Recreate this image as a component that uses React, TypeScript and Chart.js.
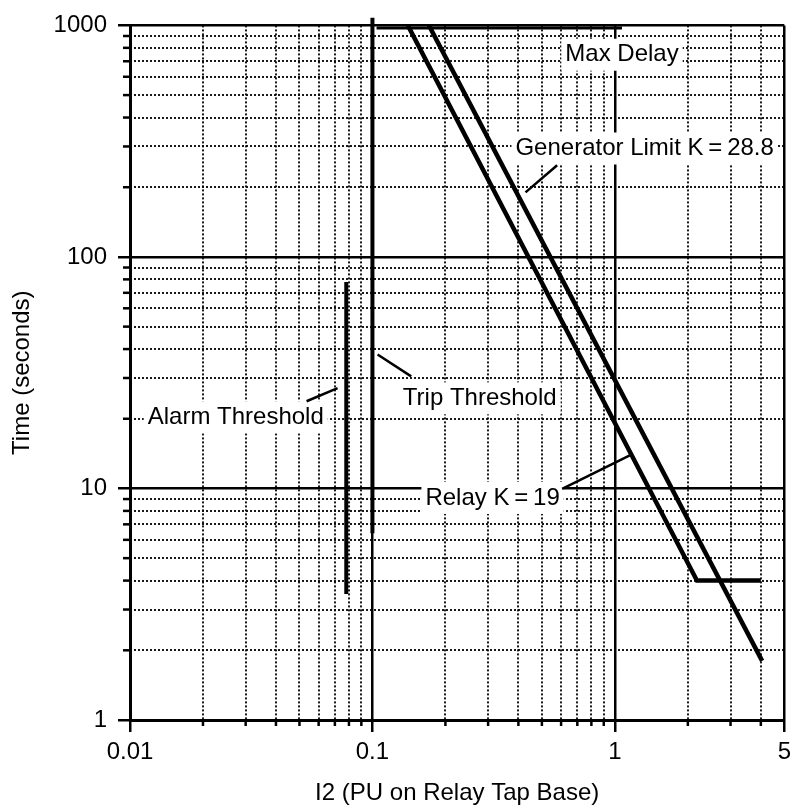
import React, { useEffect, useRef } from "react";
import { Chart, registerables } from "chart.js";

Chart.register(...registerables);

const FONT = '"Liberation Sans", Arial, Helvetica, sans-serif';

// ---- axis ticks ----
const xMajorTicks = [0.01, 0.1, 1, 5];
const xTickLabels = ["0.01", "0.1", "1", "5"];
const yMajorTicks = [1, 10, 100, 1000];
const yTickLabels = ["1", "10", "100", "1000"];
const xMinorTicks = [
  0.02, 0.03, 0.04, 0.05, 0.06, 0.07, 0.08, 0.09,
  0.2, 0.3, 0.4, 0.5, 0.6, 0.7, 0.8, 0.9,
  2, 3, 4,
];
const yMinorTicks = [
  2, 3, 4, 5, 6, 7, 8, 9,
  20, 30, 40, 50, 60, 70, 80, 90,
  200, 300, 400, 500, 600, 700, 800, 900,
];

// ---- curves (I2 in PU, time in seconds) ----
const relayCurrent = [0.14, 2.18, 4.0];
const relayTime = [1000, 4, 4];
const generatorCurrent = [0.171, 4.05];
const generatorTime = [1000, 1.8];
const maxDelayCurrent = [0.104, 1.07];
const maxDelayTime = [975, 975];
const tripCurrent = [0.1, 0.1];
const tripTime = [1080, 6.4];
const alarmCurrent = [0.078, 0.078];
const alarmTime = [78, 3.5];

// ---- leader lines ----
const genLeaderCurrent = [0.578, 0.428];
const genLeaderTime = [249, 190];
const tripLeaderCurrent = [0.105, 0.1445];
const tripLeaderTime = [37.9, 30.5];
const alarmLeaderCurrent = [0.0535, 0.0718];
const alarmLeaderTime = [23.8, 27.1];
const relayLeaderCurrent = [0.606, 1.152];
const relayLeaderTime = [9.95, 13.9];

// ---- annotation labels ----
const annotationText = [
  "Max Delay",
  "Generator Limit K\u2009=\u200928.8",
  "Trip Threshold",
  "Alarm Threshold",
  "Relay K\u2009=\u200919",
];
const annotationCurrent = [1.07, 1.327, 0.277, 0.0273, 0.313];
const annotationTime = [747, 294, 24.5, 20.3, 9.1];

function series(xs: number[], ys: number[], width: number, clip: any = undefined) {
  const ds: any = {
    data: xs.map((v, i) => ({ x: v, y: ys[i] })),
    borderColor: "#000",
    backgroundColor: "#000",
    borderWidth: width,
    pointRadius: 0,
    fill: false,
    tension: 0,
    borderCapStyle: "butt",
    borderJoinStyle: "miter",
  };
  if (clip !== undefined) ds.clip = clip;
  return ds;
}

const decorPlugin = {
  id: "decor",
  beforeDatasetsDraw(chart: any) {
    const { ctx, chartArea } = chart;
    const x = chart.scales.x;
    const y = chart.scales.y;
    const { left, right, top, bottom } = chartArea;
    ctx.save();
    // minor dotted grid
    ctx.strokeStyle = "#000";
    ctx.lineWidth = 1.8;
    ctx.setLineDash([2, 2]);
    xMinorTicks.forEach((v) => {
      const px = Math.round(x.getPixelForValue(v));
      ctx.beginPath();
      ctx.moveTo(px, top);
      ctx.lineTo(px, bottom);
      ctx.stroke();
    });
    yMinorTicks.forEach((v) => {
      const py = Math.round(y.getPixelForValue(v));
      ctx.beginPath();
      ctx.moveTo(left, py);
      ctx.lineTo(right, py);
      ctx.stroke();
    });
    ctx.setLineDash([]);
    // minor tick marks
    ctx.lineWidth = 2.5;
    ctx.strokeStyle = "#000";
    xMinorTicks.forEach((v) => {
      const px = x.getPixelForValue(v);
      ctx.beginPath();
      ctx.moveTo(px, bottom);
      ctx.lineTo(px, bottom + 6);
      ctx.stroke();
    });
    yMinorTicks.forEach((v) => {
      const py = y.getPixelForValue(v);
      ctx.beginPath();
      ctx.moveTo(left - 7, py);
      ctx.lineTo(left, py);
      ctx.stroke();
    });
    // labels with white boxes
    ctx.font = `24px ${FONT}`;
    ctx.textAlign = "center";
    ctx.textBaseline = "middle";
    annotationText.forEach((t, i) => {
      const cx = x.getPixelForValue(annotationCurrent[i]);
      const cy = y.getPixelForValue(annotationTime[i]);
      const w = ctx.measureText(t).width;
      ctx.fillStyle = "#fff";
      ctx.fillRect(cx - w / 2 - 4, cy - 16, w + 8, 32);
      ctx.fillStyle = "#000";
      ctx.fillText(t, cx, cy);
    });
    ctx.restore();
  },
};

export default function App() {
  const ref = useRef<HTMLCanvasElement | null>(null);
  useEffect(() => {
    if (!ref.current) return;
    const chart = new Chart(ref.current, {
      type: "line",
      data: {
        datasets: [
          series(relayCurrent, relayTime, 4.5),
          series(generatorCurrent, generatorTime, 4.5),
          series(maxDelayCurrent, maxDelayTime, 3),
          series(tripCurrent, tripTime, 4, false),
          series(alarmCurrent, alarmTime, 4),
          series(genLeaderCurrent, genLeaderTime, 2.5),
          series(tripLeaderCurrent, tripLeaderTime, 2.5),
          series(alarmLeaderCurrent, alarmLeaderTime, 2.5),
          series(relayLeaderCurrent, relayLeaderTime, 2.5),
        ],
      },
      options: {
        responsive: false,
        animation: false,
        devicePixelRatio: 1,
        layout: { padding: { top: 22, right: 6, left: 0, bottom: 0 } },
        plugins: {
          legend: { display: false },
          tooltip: { enabled: false },
        },
        scales: {
          x: {
            type: "logarithmic",
            min: 0.01,
            max: 5,
            afterBuildTicks: (s: any) => {
              s.ticks = xMajorTicks.map((v) => ({ value: v }));
            },
            afterFit: (s: any) => {
              s.height = 90;
            },
            ticks: {
              callback: (v: any) => xTickLabels[xMajorTicks.indexOf(Number(v))] ?? "",
              font: { family: FONT, size: 24 },
              color: "#000",
              padding: 6,
              maxRotation: 0,
              autoSkip: false,
            },
            grid: {
              color: "#000",
              lineWidth: 2.5,
              tickLength: 12,
              tickWidth: 2.5,
              tickColor: "#000",
            },
            border: { color: "#000", width: 3 },
            title: {
              display: true,
              text: "I2 (PU on Relay Tap Base)",
              font: { family: FONT, size: 24 },
              color: "#000",
              padding: { top: 0, bottom: 2 },
            },
          },
          y: {
            type: "logarithmic",
            min: 1,
            max: 1000,
            afterBuildTicks: (s: any) => {
              s.ticks = yMajorTicks.map((v) => ({ value: v }));
            },
            afterFit: (s: any) => {
              s.width = 130;
            },
            ticks: {
              callback: (v: any) => yTickLabels[yMajorTicks.indexOf(Number(v))] ?? "",
              font: { family: FONT, size: 24 },
              color: "#000",
              padding: 11,
              autoSkip: false,
            },
            grid: {
              color: "#000",
              lineWidth: 2.5,
              tickLength: 12,
              tickWidth: 2.5,
              tickColor: "#000",
            },
            border: { color: "#000", width: 3 },
            title: {
              display: true,
              text: "Time (seconds)",
              font: { family: FONT, size: 24 },
              color: "#000",
              padding: { top: 8, bottom: 0 },
            },
          },
        },
      },
      plugins: [decorPlugin],
    } as any);
    return () => chart.destroy();
  }, []);
  return (
    <div style={{ position: "absolute", left: 0, top: 0, width: 797, height: 810, background: "#fff" }}>
      <canvas ref={ref} width={797} height={810} style={{ display: "block" }} />
    </div>
  );
}
